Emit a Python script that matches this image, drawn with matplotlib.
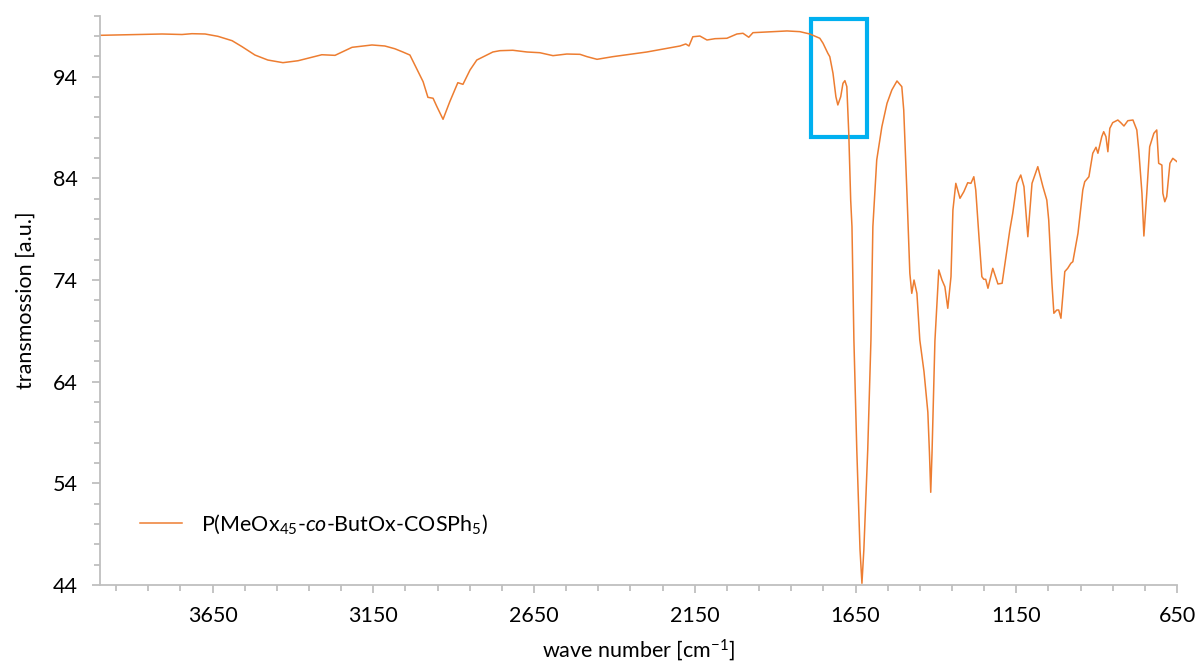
import matplotlib
matplotlib.use("Agg")
import matplotlib.pyplot as plt
from matplotlib.patches import Rectangle
from matplotlib.ticker import MultipleLocator, FixedLocator

plt.rcParams['font.family'] = ['Lato', 'DejaVu Sans']
plt.rcParams['mathtext.fontset'] = 'custom'
plt.rcParams['mathtext.rm'] = 'Lato'
plt.rcParams['mathtext.it'] = 'Lato:italic'

# FTIR spectrum: wave number [cm^-1] and transmission [a.u.]
wavenumber = [
    4000, 3913, 3807, 3745, 3714, 3673, 3633, 3589, 3558, 3518, 3478, 3431,
    3384, 3310, 3269, 3216, 3154, 3114, 3083, 3058, 3036, 2995, 2980, 2964,
    2952, 2933, 2912, 2887, 2871, 2849, 2828, 2778, 2756, 2716, 2672, 2632,
    2591, 2548, 2507, 2485, 2454, 2405, 2352, 2299, 2249, 2196, 2178, 2168,
    2156, 2134, 2112, 2087, 2050, 2019, 2000, 1982, 1969, 1926, 1863, 1823,
    1792, 1761, 1751, 1736, 1730, 1720, 1711, 1705, 1696, 1689, 1683, 1677,
    1671, 1665, 1661, 1655, 1646, 1636, 1630, 1624, 1612, 1602, 1596, 1584,
    1568, 1552, 1537, 1521, 1506, 1500, 1490, 1481, 1475, 1468, 1459, 1450,
    1437, 1425, 1420, 1416, 1412, 1403, 1391, 1381, 1372, 1363, 1353, 1347,
    1338, 1325, 1313, 1301, 1291, 1282, 1276, 1266, 1257, 1251, 1245, 1238,
    1223, 1207, 1194, 1185, 1170, 1161, 1148, 1136, 1126, 1114, 1101, 1083,
    1067, 1055, 1049, 1039, 1033, 1024, 1018, 1011, 999, 990, 980, 974,
    958, 943, 937, 924, 912, 902, 896, 884, 878, 871, 865, 859,
    850, 834, 825, 815, 803, 787, 775, 769, 759, 753, 744, 735,
    722, 713, 707, 697, 694, 688, 682, 672, 663, 650,
]
transmission = [
    98.07, 98.13, 98.20, 98.15, 98.23, 98.20, 97.97, 97.54, 96.95, 96.13, 95.64, 95.38,
    95.57, 96.16, 96.10, 96.89, 97.12, 97.02, 96.75, 96.43, 96.13, 93.51, 91.97, 91.88,
    91.05, 89.81, 91.54, 93.41, 93.25, 94.66, 95.64, 96.43, 96.56, 96.60, 96.43, 96.36,
    96.07, 96.23, 96.20, 95.97, 95.71, 95.97, 96.20, 96.43, 96.72, 97.02, 97.22, 97.02,
    97.93, 98.00, 97.61, 97.74, 97.78, 98.20, 98.27, 97.88, 98.33, 98.40, 98.50, 98.43,
    98.20, 97.78, 97.29, 96.30, 95.97, 94.33, 92.03, 91.22, 92.03, 93.35, 93.61, 93.02,
    88.46, 81.87, 79.25, 68.10, 57.28, 47.50, 44.17, 47.50, 57.28, 68.10, 79.25, 85.81,
    89.08, 91.38, 92.69, 93.58, 93.02, 90.72, 82.53, 74.66, 72.69, 74.00, 72.69, 68.10,
    65.00, 61.00, 57.00, 53.12, 57.00, 68.00, 74.99, 74.00, 73.34, 71.22, 74.33, 80.89,
    83.51, 82.04, 82.69, 83.57, 83.51, 84.16, 82.86, 78.26, 74.33, 74.07, 74.07, 73.19,
    75.15, 73.61, 73.68, 75.65, 78.92, 80.56, 83.51, 84.33, 83.18, 78.26, 83.51, 85.15,
    83.18, 81.87, 79.90, 73.68, 70.73, 71.05, 71.05, 70.24, 74.83, 75.15, 75.65, 75.80,
    78.60, 82.86, 83.67, 84.16, 86.47, 87.06, 86.47, 88.10, 88.59, 88.10, 86.62, 88.92,
    89.48, 89.74, 89.48, 89.15, 89.67, 89.74, 88.76, 86.79, 82.53, 78.33, 82.53, 87.11,
    88.43, 88.76, 85.48, 85.31, 82.53, 81.70, 82.20, 85.48, 85.97, 85.64,
]
series_label = r"P(MeOx$_{45}$-$\it{co}$-ButOx-COSPh$_{5}$)"

x_major = [650, 1150, 1650, 2150, 2650, 3150, 3650]
y_major = [44, 54, 64, 74, 84, 94]

# highlighted band region
box_x = (1614, 1789)
box_y = (88.1, 99.7)

line_color = "#ED7D31"
axis_color = "#BFBFBF"
box_color = "#00B0F0"

fig = plt.figure(figsize=(12.01, 6.64), dpi=100)
ax = fig.add_axes([100 / 1201, 79 / 664, 1077 / 1201, 569.3 / 664])

ax.plot(wavenumber, transmission, color=line_color, lw=1.1, label=series_label,
        solid_joinstyle="round")

ax.add_patch(Rectangle((box_x[0], box_y[0]), box_x[1] - box_x[0], box_y[1] - box_y[0],
                       fill=False, edgecolor=box_color, lw=3.0, clip_on=False))

ax.set_xlim(4000, 650)
ax.set_ylim(44, 100)

ax.xaxis.set_major_locator(FixedLocator(x_major))
ax.xaxis.set_minor_locator(FixedLocator([v for v in range(650, 4001, 100) if v not in x_major]))
ax.yaxis.set_major_locator(FixedLocator(y_major))
ax.yaxis.set_minor_locator(FixedLocator([v for v in range(44, 101, 2) if v not in y_major]))

for side in ("top", "right"):
    ax.spines[side].set_visible(False)
for side in ("left", "bottom"):
    ax.spines[side].set_color(axis_color)
    ax.spines[side].set_linewidth(1.3)

ax.tick_params(which="major", direction="out", length=6, width=1.3, color=axis_color,
               labelsize=15.5, labelcolor="black")
ax.tick_params(which="minor", direction="out", length=4, width=1.3, color=axis_color)
ax.tick_params(axis="y", which="major", pad=10)
ax.tick_params(axis="x", which="major", pad=9)

ax.set_xlabel("wave number [cm$^{-1}$]", fontsize=15.5, labelpad=8)
ax.set_ylabel("transmossion [a.u.]", fontsize=15.5, labelpad=12)

leg = ax.legend(loc="center left", bbox_to_anchor=(0.0371, 0.107), frameon=False,
                fontsize=15.5, handlelength=1.95, handletextpad=0.9,
                borderpad=0, borderaxespad=0)

fig.savefig("out.png", dpi=100)
